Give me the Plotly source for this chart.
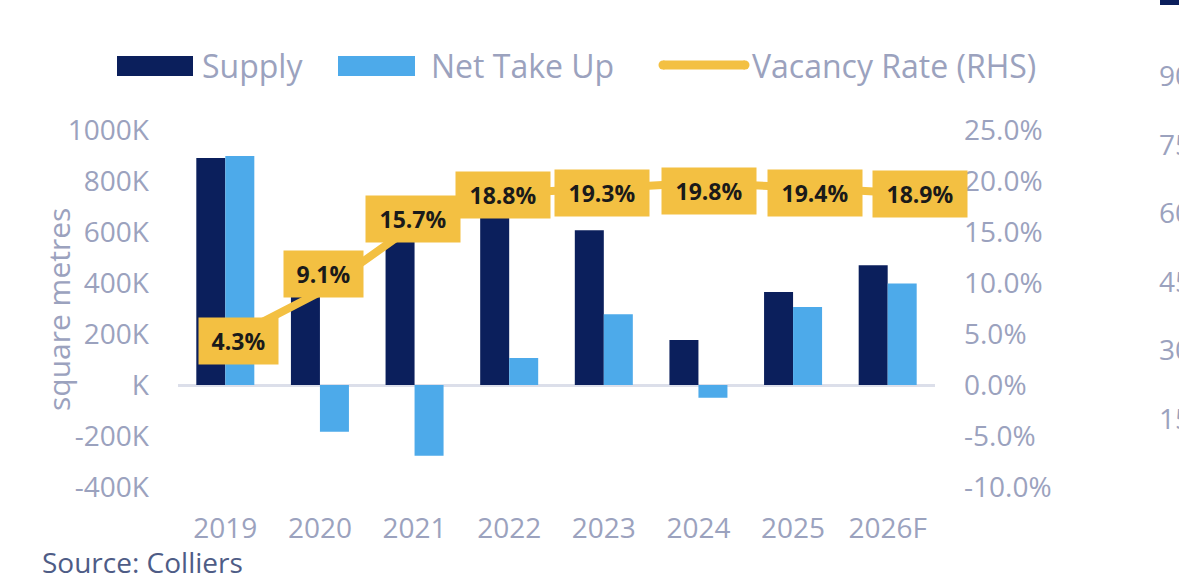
import plotly.graph_objects as go

# ---------------- data ----------------
years = ["2019", "2020", "2021", "2022", "2023", "2024", "2025", "2026F"]
supply = [890000, 345000, 590000, 690000, 607000, 176000, 365000, 470000]
net_take_up = [898000, -183000, -277000, 106000, 277000, -50000, 306000, 398000]
vacancy = [4.3, 9.1, 15.7, 18.8, 19.3, 19.8, 19.4, 18.9]

left_tick_vals = [1000000, 800000, 600000, 400000, 200000, 0, -200000, -400000]
left_tick_text = ["1000K", "800K", "600K", "400K", "200K", "K", "-200K", "-400K"]
right_tick_vals = [25, 20, 15, 10, 5, 0, -5, -10]
right_tick_text = ["25.0%", "20.0%", "15.0%", "10.0%", "5.0%", "0.0%", "-5.0%", "-10.0%"]
side_chart_ticks = ["90", "75", "60", "45", "30", "15"]

# ---------------- styles ----------------
NAVY = "#0B1F5C"
LIGHT = "#4DAAEA"
GOLD = "#F3C042"
GREY = "#9BA2BE"
FONT = "Open Sans"

W, H = 1179, 580
L, R, T, B = 178, 244, 130, 93
PW, PH = W - L - R, H - T - B


def px(x):
    return (x - L) / PW


def py(y):
    return (H - B - y) / PH


label_xshift = [13, 4, -2, -6, -2, 11, 22, 32]
label_yshift = [0, 18, 6, -2, -5, -8, -6, -2]

fig = go.Figure()
fig.add_trace(go.Bar(x=years, y=supply, name="Supply", marker=dict(color=NAVY, line=dict(width=0))))
fig.add_trace(go.Bar(x=years, y=net_take_up, name="Net Take Up", marker=dict(color=LIGHT, line=dict(width=0))))
fig.add_trace(go.Scatter(x=years, y=vacancy, name="Vacancy Rate (RHS)", yaxis="y2", mode="lines",
                         line=dict(color=GOLD, width=8)))

annotations = []
for i, v in enumerate(vacancy):
    txt = f"{v:.1f}%"
    # category axes take the serial number of the category for annotations
    annotations.append(dict(
        x=i, y=v, xref="x", yref="y2", text=f"<b>{txt}</b>", showarrow=False,
        font=dict(family=FONT, size=23, color="#1A1A1A"), bgcolor=GOLD,
        borderpad=7, width=15 * len(txt) + 5, xshift=label_xshift[i], yshift=label_yshift[i],
        xanchor="center", yanchor="middle"))

# y-axis title
annotations.append(dict(x=px(58), y=py(310), xref="paper", yref="paper", text="square metres",
                        textangle=-90, showarrow=False, font=dict(family=FONT, size=30, color=GREY),
                        xanchor="center", yanchor="middle"))
# source
annotations.append(dict(x=px(40), y=py(562), xref="paper", yref="paper", text="Source: Colliers",
                        showarrow=False, font=dict(family=FONT, size=28, color="#4E5C86"),
                        xanchor="left", yanchor="middle"))

# custom legend
shapes = []
legend_items = [("Supply", "bar", NAVY, 117, 193, 200),
                ("Net Take Up", "bar", LIGHT, 338, 415, 429),
                ("Vacancy Rate (RHS)", "line", GOLD, 663, 745, 750)]
for name, kind, col, x0, x1, tx in legend_items:
    if kind == "bar":
        shapes.append(dict(type="rect", xref="paper", yref="paper", x0=px(x0), x1=px(x1),
                           y0=py(76), y1=py(56), fillcolor=col, line=dict(width=0)))
    else:
        shapes.append(dict(type="line", xref="paper", yref="paper", x0=px(x0), x1=px(x1),
                           y0=py(65), y1=py(65), line=dict(color=col, width=9)))
        for cx in (x0, x1):
            shapes.append(dict(type="circle", xref="paper", yref="paper", x0=px(cx - 4.5), x1=px(cx + 4.5),
                               y0=py(69.5), y1=py(60.5), fillcolor=col, line=dict(width=0)))
    annotations.append(dict(x=px(tx), y=py(65), xref="paper", yref="paper", text=name, showarrow=False,
                            font=dict(family=FONT, size=32, color=GREY), xanchor="left", yanchor="middle"))

# partially visible neighbouring chart at the right edge
shapes.append(dict(type="rect", xref="paper", yref="paper", x0=px(1160), x1=px(1185),
                   y0=py(5), y1=py(-5), fillcolor=NAVY, line=dict(width=0)))
for i, t in enumerate(side_chart_ticks):
    annotations.append(dict(x=px(1157), y=py(75 + 68.6 * i), xref="paper", yref="paper", text=t,
                            showarrow=False, font=dict(family=FONT, size=28, color=GREY),
                            xanchor="left", yanchor="middle"))

fig.update_layout(
    width=W, height=H,
    margin=dict(l=L, r=R, t=T, b=B, pad=0),
    paper_bgcolor="white", plot_bgcolor="white",
    barmode="group", bargap=0.387, bargroupgap=0,
    showlegend=False,
    font=dict(family=FONT, color=GREY),
    xaxis=dict(type="category", categoryorder="array", categoryarray=years,
               range=[-0.5, len(years) - 0.5],
               showgrid=False, showline=False, ticks="", tickfont=dict(size=28, color=GREY),
               ticklabelstandoff=22, fixedrange=True),
    yaxis=dict(range=[-400000, 1000000], tickvals=left_tick_vals, ticktext=left_tick_text,
               showgrid=False, showline=False, ticks="", zeroline=True, zerolinecolor="#DCDFEA",
               zerolinewidth=3, tickfont=dict(size=28, color=GREY), ticklabelstandoff=28),
    yaxis2=dict(range=[-10, 25], tickvals=right_tick_vals, ticktext=right_tick_text,
                overlaying="y", side="right", showgrid=False, showline=False, ticks="",
                zeroline=False, tickfont=dict(size=28, color=GREY), ticklabelstandoff=28),
    annotations=annotations,
    shapes=shapes,
)

fig.write_html("out.html", config={"displayModeBar": False},
               post_script="document.body.style.margin='0';document.body.style.overflow='hidden';")
